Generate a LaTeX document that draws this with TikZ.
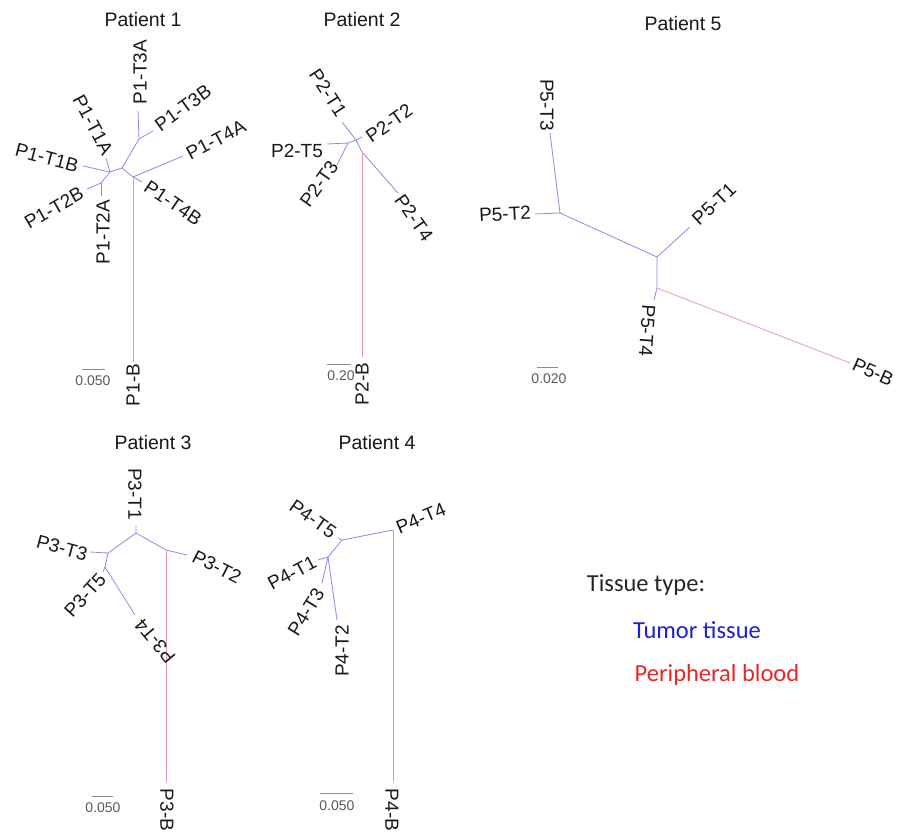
\documentclass[tikz,border=0pt]{standalone}
\usepackage{fontspec}
\setmainfont{Liberation Sans}
\newfontfamily\legendfont{Carlito}
\definecolor{tumorline}{RGB}{140,140,228}
\definecolor{bloodline}{RGB}{236,155,165}
\definecolor{tumortext}{RGB}{30,30,215}
\definecolor{bloodtext}{RGB}{228,40,40}
\definecolor{scalegray}{RGB}{90,90,90}
\tikzset{
  tline/.style={draw=tumorline, line width=0.8pt},
  bline/.style={draw=bloodline, line width=0.8pt},
  lbl/.style={font=\fontsize{19}{21}\selectfont, text=black!90, inner sep=0pt},
  ttl/.style={font=\fontsize{19.5}{21}\selectfont, text=black!90, inner sep=0pt},
  sbar/.style={draw=scalegray!70, line width=0.7pt},
  stxt/.style={font=\fontsize{14}{15}\selectfont, text=scalegray, inner sep=0pt},
  leg/.style={font=\legendfont\fontsize{24.5}{26}\selectfont, inner sep=0pt}
}
\begin{document}
\begin{tikzpicture}[x=1pt,y=-1pt]
\useasboundingbox[fill=white] (0,0) rectangle (909,832);

% ---------------- Patient 1 ----------------
\node[ttl] (t1) at (143,20) {Patient 1};
\coordinate (p1a) at (110,172);
\coordinate (p1b) at (122,168);
\coordinate (p1c) at (133,177);
\coordinate (p1d) at (139,139);
\coordinate (p1e) at (101,183);
\coordinate (p1t3a) at (138,111);
\coordinate (p1t3b) at (153,131);
\coordinate (p1t4a) at (183,156);
\coordinate (p1t4b) at (142,182);
\coordinate (p1t1a) at (106,158);
\coordinate (p1t1b) at (83,166);
\coordinate (p1t2b) at (87,189);
\coordinate (p1t2a) at (101,196);
\coordinate (p1bb) at (133,362);
\draw[tline] (p1a) -- (p1b) -- (p1c);
\draw[tline] (p1b) -- (p1d) -- (p1t3a);
\draw[tline] (p1d) -- (p1t3b);
\draw[tline] (p1c) -- (p1t4a);
\draw[tline] (p1c) -- (p1t4b);
\draw[tline] (p1a) -- (p1t1a);
\draw[tline] (p1a) -- (p1t1b);
\draw[tline] (p1a) -- (p1e) -- (p1t2b);
\draw[tline] (p1e) -- (p1t2a);
\draw[bline] (p1c) -- (p1bb);
\node[lbl, rotate=90] (l1t3a) at (140,72) {P1-T3A};
\node[lbl, rotate=36] (l1t3b) at (183,108) {P1-T3B};
\node[lbl, rotate=28] (l1t4a) at (216,140) {P1-T4A};
\node[lbl, rotate=-62] (l1t1a) at (93,125) {P1-T1A};
\node[lbl, rotate=-15] (l1t1b) at (47,158) {P1-T1B};
\node[lbl, rotate=30] (l1t2b) at (54,208) {P1-T2B};
\node[lbl, rotate=90] (l1t2a) at (103,232) {P1-T2A};
\node[lbl, rotate=-34] (l1t4b) at (173,203) {P1-T4B};
\node[lbl, rotate=90] (l1b) at (133,385) {P1-B};
\coordinate (s1a) at (82,369); \coordinate (s1b) at (105,369);
\draw[sbar] (s1a) -- (s1b);
\node[stxt] (s1) at (93,381) {0.050};

% ---------------- Patient 2 ----------------
\node[ttl] (t2) at (362,20) {Patient 2};
\coordinate (q1) at (348,143);
\coordinate (q2) at (356,140);
\coordinate (q3) at (362,152);
\coordinate (q2t1) at (342,122);
\coordinate (q2t2) at (362,137);
\coordinate (q2t5) at (327,144);
\coordinate (q2t3) at (337,165);
\coordinate (q2t4) at (398,193);
\coordinate (q2bb) at (362,357);
\draw[tline] (q2t5) -- (q1) -- (q2) -- (q3);
\draw[tline] (q1) -- (q2t3);
\draw[tline] (q2) -- (q2t1);
\draw[tline] (q2) -- (q2t2);
\draw[tline] (q3) -- (q2t4);
\draw[bline] (q3) -- (q2bb);
\node[lbl, rotate=-57] (l2t1) at (328,93) {P2-T1};
\node[lbl, rotate=35] (l2t2) at (389,123) {P2-T2};
\node[lbl] (l2t5) at (297,151) {P2-T5};
\node[lbl, rotate=55] (l2t3) at (319,184) {P2-T3};
\node[lbl, rotate=-55] (l2t4) at (414,218) {P2-T4};
\node[lbl, rotate=90] (l2b) at (362,384) {P2-B};
\coordinate (s2a) at (327,364); \coordinate (s2b) at (351,364);
\draw[sbar] (s2a) -- (s2b);
\node[stxt] (s2) at (341,376) {0.20};

% ---------------- Patient 5 ----------------
\node[ttl] (t5) at (683,24) {Patient 5};
\coordinate (r5a) at (560,213);
\coordinate (r5b) at (657,257);
\coordinate (r5c) at (657,288);
\coordinate (r5t3) at (550,133);
\coordinate (r5t2) at (535,214);
\coordinate (r5t1) at (690,227);
\coordinate (r5t4) at (654,300);
\coordinate (r5bb) at (850,363);
\draw[tline] (r5t3) -- (r5a) -- (r5b) -- (r5c) -- (r5t4);
\draw[tline] (r5a) -- (r5t2);
\draw[tline] (r5b) -- (r5t1);
\draw[bline] (r5c) -- (r5bb);
\node[lbl, rotate=-90] (l5t3) at (547,105) {P5-T3};
\node[lbl, rotate=3] (l5t2) at (505,214) {P5-T2};
\node[lbl, rotate=43] (l5t1) at (714,204) {P5-T1};
\node[lbl, rotate=-94] (l5t4) at (647,331) {P5-T4};
\node[lbl, rotate=-24] (l5b) at (873,372) {P5-B};
\coordinate (s5a) at (537,367); \coordinate (s5b) at (558,367);
\draw[sbar] (s5a) -- (s5b);
\node[stxt] (s5) at (549,379) {0.020};

% ---------------- Patient 3 ----------------
\node[ttl] (t3) at (153,443) {Patient 3};
\coordinate (u1) at (136,533);
\coordinate (u2) at (108,553);
\coordinate (u3) at (166,550);
\coordinate (u4) at (105,567);
\coordinate (u3t1) at (136,525);
\coordinate (u3t3) at (90,552);
\coordinate (u3t5) at (103,572);
\coordinate (u3t4) at (135,615);
\coordinate (u3t2) at (187,555);
\coordinate (u3bb) at (166,782);
\draw[tline] (u3t1) -- (u1) -- (u2) -- (u4) -- (u3t4);
\draw[tline] (u4) -- (u3t5);
\draw[tline] (u2) -- (u3t3);
\draw[tline] (u1) -- (u3) -- (u3t2);
\draw[bline] (u3) -- (u3bb);
\node[lbl, rotate=-90] (l3t1) at (135,494) {P3-T1};
\node[lbl, rotate=-15] (l3t3) at (62,548) {P3-T3};
\node[lbl, rotate=48] (l3t5) at (85,595) {P3-T5};
\node[lbl, rotate=130] (l3t4) at (155,641) {P3-T4};
\node[lbl, rotate=-27] (l3t2) at (217,567) {P3-T2};
\node[lbl, rotate=-90] (l3b) at (167,810) {P3-B};
\coordinate (s3a) at (92,796); \coordinate (s3b) at (113,796);
\draw[sbar] (s3a) -- (s3b);
\node[stxt] (s3) at (103,808) {0.050};

% ---------------- Patient 4 ----------------
\node[ttl] (t4) at (377,443) {Patient 4};
\coordinate (v1) at (342,540);
\coordinate (v2) at (328,557);
\coordinate (v4t5) at (338,538);
\coordinate (v4t4) at (393,530);
\coordinate (v4t1) at (318,560);
\coordinate (v4t3) at (322,583);
\coordinate (v4t2) at (337,620);
\coordinate (v4bb) at (393,782);
\draw[tline] (v4t5) -- (v1) -- (v4t4);
\draw[tline] (v1) -- (v2) -- (v4t1);
\draw[tline] (v2) -- (v4t3);
\draw[tline] (v2) -- (v4t2);
\draw[bline] (v4t4) -- (v4bb);
\node[lbl, rotate=-35] (l4t5) at (313,519) {P4-T5};
\node[lbl, rotate=23] (l4t4) at (421,518) {P4-T4};
\node[lbl, rotate=28] (l4t1) at (292,573) {P4-T1};
\node[lbl, rotate=58] (l4t3) at (306,612) {P4-T3};
\node[lbl, rotate=90] (l4t2) at (342,651) {P4-T2};
\node[lbl, rotate=-90] (l4b) at (392,810) {P4-B};
\coordinate (s4a) at (320,793); \coordinate (s4b) at (353,793);
\draw[sbar] (s4a) -- (s4b);
\node[stxt] (s4) at (337,806) {0.050};

% ---------------- Legend ----------------
\node[leg, text=black!85] (lg0) at (646,585) {Tissue type:};
\node[leg, text=tumortext] (lg1) at (697,630) {Tumor tissue};
\node[leg, text=bloodtext] (lg2) at (717,675) {Peripheral blood};
\end{tikzpicture}
\end{document}
